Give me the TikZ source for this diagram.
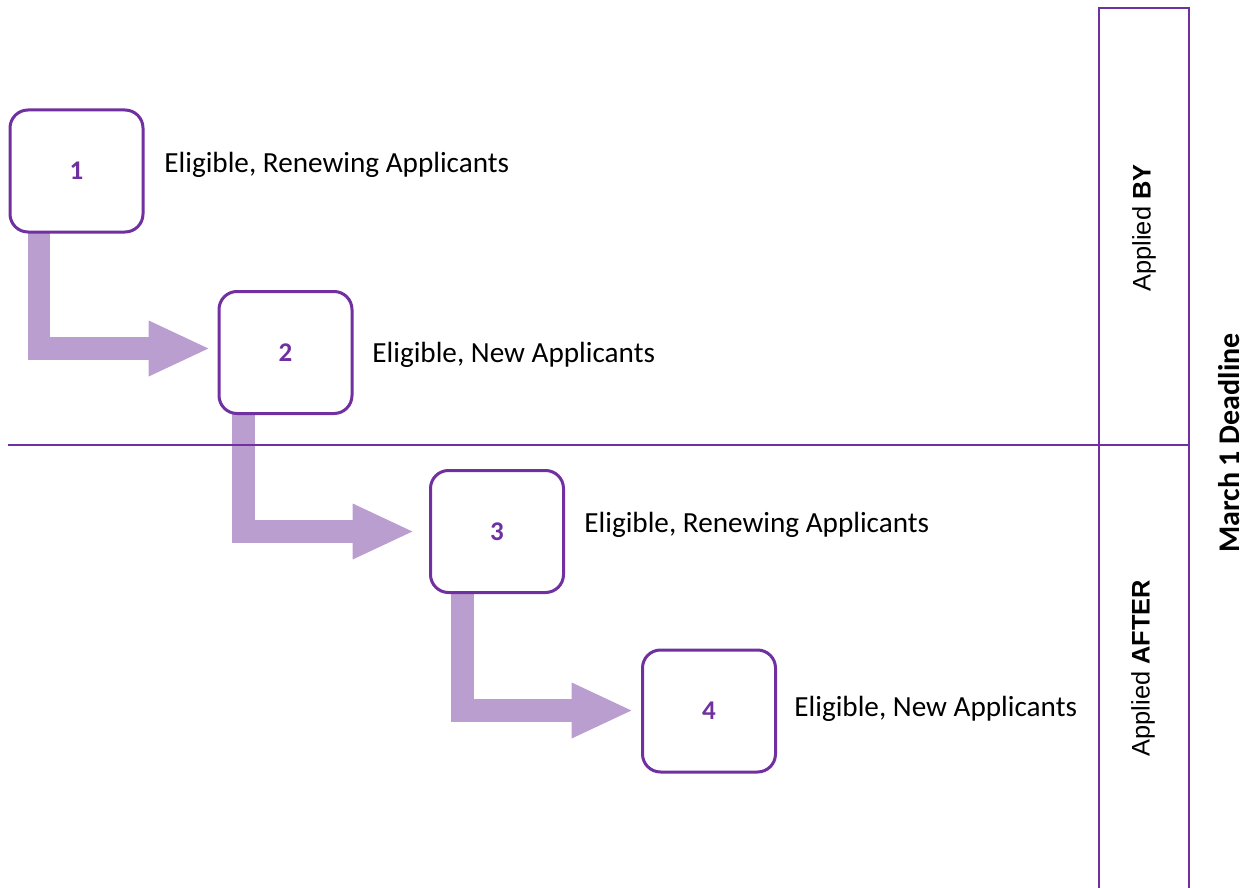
\documentclass[tikz,border=0pt]{standalone}
\usepackage{fontspec}
\setmainfont{Carlito}
\newfontfamily\arialfont{Liberation Sans}
\usetikzlibrary{arrows.meta,calc,backgrounds}
\definecolor{deeppurple}{RGB}{112,48,160}
\definecolor{lightpurple}{RGB}{187,158,208}
\tikzset{
  numbox/.style={draw=deeppurple, line width=1.5pt, fill=white, rounded corners=9pt,
    minimum width=66.5pt, minimum height=61pt, inner sep=0pt, outer sep=0pt,
    font=\fontsize{13.5}{16}\selectfont\bfseries, text=deeppurple},
  desc/.style={anchor=west, inner sep=0pt, font=\fontsize{14.6}{17}\selectfont},
  flow/.style={draw=lightpurple, line width=11.3pt, line cap=butt, line join=miter,
    -{Triangle[length=31pt,width=25.5pt]}},
  divider/.style={draw=deeppurple, line width=1.2pt},
  sidelabel/.style={rotate=90, inner sep=0pt, font=\arialfont\fontsize{12.7}{15}\selectfont},
}
\begin{document}
\begin{tikzpicture}[x=0.5pt,y=-0.5pt]
\useasboundingbox (0,0) rectangle (1248,888);

% boxes
\node[numbox] (b1) at (76.5,171) {1};
\node[numbox] (b2) at (285.5,352.5) {2};
\node[numbox] (b3) at (497,531.5) {3};
\node[numbox] (b4) at (709,711) {4};

% descriptions
\node[desc] (t1) at (164,165) {Eligible, Renewing Applicants};
\node[desc] (t2) at (372,355) {Eligible, New Applicants};
\node[desc] (t3) at (584,525) {Eligible, Renewing Applicants};
\node[desc] (t4) at (794,709) {Eligible, New Applicants};

% elbow arrows
\begin{pgfonlayer}{background}
\draw[flow] ($(b1.south west)+(29,0)$) |- ($(b2.west)+(-8.5,-4)$);
\draw[flow] ($(b2.south west)+(24.5,0)$) |- ($(b3.west)+(-16,0)$);
\draw[flow] ($(b3.south west)+(32,0)$) |- ($(b4.west)+(-9,-0.5)$);
\end{pgfonlayer}

% right column and divider
\coordinate (cTL) at (1099,8);
\coordinate (cTR) at (1189,8);
\coordinate (cML) at (1099,445);
\coordinate (cMR) at (1189,445);
\coordinate (cBL) at (1099,888);
\coordinate (cBR) at (1189,888);
\coordinate (lineStart) at (8,445);
\draw[divider] (cBL) -- (cTL) -- (cTR) -- (cBR);
\draw[divider] (lineStart) -- (cMR);

\node[sidelabel] (by) at (1144,228) {Applied \textbf{BY}};
\node[sidelabel] (after) at (1143,668) {Applied \textbf{AFTER}};
\node[rotate=90, inner sep=0pt, font=\fontsize{15}{18}\selectfont\bfseries] (deadline) at (1229,443) {March 1 Deadline};
\end{tikzpicture}
\end{document}
